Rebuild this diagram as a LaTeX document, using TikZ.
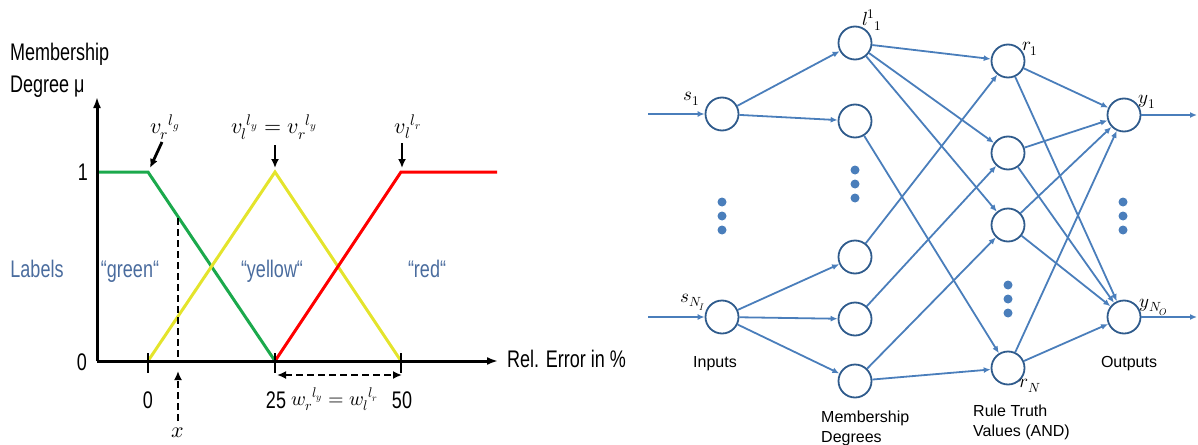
\documentclass[tikz,border=0pt]{standalone}
\usepackage{fontspec}
\usepackage{unicode-math}
\setmainfont{Liberation Sans}
\newfontfamily\narf{Liberation Sans}[FakeStretch=0.75]
\usetikzlibrary{arrows.meta}
\definecolor{netblue}{HTML}{4A7EBB}
\definecolor{nodeblue}{HTML}{2F5B8C}
\definecolor{lblblue}{HTML}{4A6C9E}
\definecolor{mgreen}{HTML}{1BA94C}
\definecolor{myellow}{HTML}{E4E42C}
\definecolor{mred}{HTML}{FF0000}
\tikzset{
  axisline/.style={line width=3pt, -{Latex[length=11pt,width=8pt]}},
  mfline/.style={line width=3pt, line join=miter},
  tickline/.style={line width=2.5pt},
  ctxt/.style={font=\narf\fontsize{24}{26}\selectfont, inner sep=0pt},
  clbl/.style={ctxt, text=lblblue},
  cmath/.style={font=\fontsize{22}{24}\selectfont, inner sep=0pt},
  annarrow/.style={line width=2.8pt, -{Latex[length=9pt,width=8pt]}},
  dasharrow/.style={line width=2.8pt, dash pattern=on 7pt off 4pt},
  neuron/.style={circle, draw=nodeblue, line width=1.8pt, fill=white, minimum size=33pt, inner sep=0pt},
  conn/.style={draw=netblue, line width=1.8pt, -{Latex[length=7pt,width=6pt]}},
  bluedot/.style={circle, fill=netblue, minimum size=9pt, inner sep=0pt},
  nettxt/.style={font=\fontsize{16}{20}\selectfont, inner sep=0pt, align=left},
  netmath/.style={font=\fontsize{19}{21}\selectfont, inner sep=0pt},
}
\begin{document}
\begin{tikzpicture}[x=1pt,y=-1pt]
\useasboundingbox (0,0) rectangle (1198,444);

% ---------------- left chart ----------------
\coordinate (O) at (97,361);
\coordinate (Ytop) at (97,97);
\coordinate (Xend) at (498,361);
\coordinate (G1) at (97,172);
\coordinate (G2) at (148,172);
\coordinate (Z0) at (148,361);
\coordinate (Z25) at (275,361);
\coordinate (Z50) at (401,361);
\coordinate (Ypk) at (275,172);
\coordinate (Rpk) at (401,172);
\coordinate (Rend) at (497,172);

\draw[mfline, mgreen] (G1) -- (G2) -- (Z25);
\draw[mfline, myellow] (Z0) -- (Ypk) -- (Z50);
\draw[mfline, mred] (Z25) -- (Rpk) -- (Rend);

\draw[axisline] (O) -- (Ytop);
\draw[axisline] (O) -- (Xend);

\draw[tickline] (148,353) -- (148,373);
\draw[tickline] (275,353) -- (275,373);
\draw[tickline] (401,353) -- (401,373);

\node[ctxt, anchor=base west] (mem) at (10,60) {Membership};
\node[ctxt, anchor=base west] (deg) at (10,92) {Degree μ};
\node[ctxt, anchor=base] (one) at (83,180) {1};
\node[ctxt, anchor=base] (zero) at (82,370) {0};
\node[ctxt, anchor=base] (x0) at (148,408) {0};
\node[ctxt, anchor=base] (x25) at (276,408) {25};
\node[ctxt, anchor=base] (x50) at (402,408) {50};
\node[ctxt, anchor=base west] (rel) at (507,367) {Rel. Error in \%};

\node[clbl, anchor=base] (lab) at (37,277) {Labels};
\node[clbl, anchor=base] (lgreen) at (130,277) {“green“};
\node[clbl, anchor=base] (lyellow) at (272,277) {“yellow“};
\node[clbl, anchor=base] (lred) at (427,277) {“red“};

\node[cmath] (vg) at (165,127) {$v_r{}^{l_g}$};
\node[cmath] (vy) at (274,127) {$v_l{}^{l_y}=v_r{}^{l_y}$};
\node[cmath] (vr) at (408,127) {$v_l{}^{l_r}$};
\coordinate (pg) at (150,168);
\coordinate (py) at (275,168);
\coordinate (pr) at (402,168);
\draw[annarrow] (162,142) -- (pg);
\draw[annarrow] (275,145) -- (py);
\draw[annarrow] (402,143) -- (pr);

\node[cmath, font=\fontsize{20}{22}\selectfont, anchor=west] (wlab) at (291,399) {$w_r{}^{l_y}=w_l{}^{l_r}$};
\node[cmath] (xlab) at (178,433) {$x$};

\coordinate (xg) at (178,218);
\coordinate (xa) at (178,361);
\draw[dasharrow] (xg) -- (xa);
\coordinate (xb) at (178,421);
\coordinate (xt) at (178,371);
\draw[dasharrow, -{Latex[length=9pt,width=8pt]}] (xb) -- (xt);
\coordinate (w1) at (277,375);
\coordinate (w2) at (402,375);
\draw[dasharrow, {Latex[length=9pt,width=8pt]}-{Latex[length=9pt,width=8pt]}] (w1) -- (w2);

% ---------------- right network ----------------
\node[neuron] (in1) at (722,114) {};
\node[neuron] (in2) at (722,317) {};
\node[neuron] (m1) at (855,43) {};
\node[neuron] (m2) at (855,121) {};
\node[neuron] (m3) at (855,257) {};
\node[neuron] (m4) at (855,319) {};
\node[neuron] (m5) at (855,381) {};
\node[neuron] (r1) at (1008,61) {};
\node[neuron] (r2) at (1008,153) {};
\node[neuron] (r3) at (1008,225) {};
\node[neuron] (r4) at (1008,368) {};
\node[neuron] (o1) at (1124,115) {};
\node[neuron] (o2) at (1124,317) {};

\coordinate (ia1) at (648,114);
\coordinate (ia2) at (648,317);
\coordinate (oa1) at (1197,115);
\coordinate (oa2) at (1197,317);

\draw[conn] (ia1) -- (in1);
\draw[conn] (ia2) -- (in2);
\draw[conn] (in1) -- (m1);
\draw[conn] (in1) -- (m2);
\draw[conn] (in2) -- (m3);
\draw[conn] (in2) -- (m4);
\draw[conn] (in2) -- (m5);
\draw[conn] (m1) -- (r1);
\draw[conn] (m1) -- (r2);
\draw[conn] (m1) -- (r3);
\draw[conn] (m2) -- (r4);
\draw[conn] (m3) -- (r1);
\draw[conn] (m4) -- (r2);
\draw[conn] (m5) -- (r3);
\draw[conn] (m5) -- (r4);
\foreach \r in {r1,r2,r3,r4}{
  \draw[conn] (\r) -- (o1);
  \draw[conn] (\r) -- (o2);
}
\draw[conn] (o1) -- (oa1);
\draw[conn] (o2) -- (oa2);

\node[bluedot] (di1) at (722,202) {};
\node[bluedot] (di2) at (722,216) {};
\node[bluedot] (di3) at (722,230) {};
\node[bluedot] (dm1) at (855,170) {};
\node[bluedot] (dm2) at (855,184) {};
\node[bluedot] (dm3) at (855,198) {};
\node[bluedot] (dr1) at (1008,285) {};
\node[bluedot] (dr2) at (1008,299) {};
\node[bluedot] (dr3) at (1008,313) {};
\node[bluedot] (do1) at (1123,202) {};
\node[bluedot] (do2) at (1123,216) {};
\node[bluedot] (do3) at (1123,230) {};

\node[netmath] (ls1) at (692,99) {$s_1$};
\node[netmath] (ls2) at (693,302) {$s_{N_I}$};
\node[netmath] (ll11) at (872,20) {$l^1{}_1$};
\node[netmath] (lr1) at (1030,49) {$r_1$};
\node[netmath] (lrN) at (1030,386) {$r_N$};
\node[netmath] (ly1) at (1147,102) {$y_1$};
\node[netmath] (lyN) at (1154,307) {$y_{N_O}$};

\node[nettxt, anchor=base] (tin) at (715,367) {Inputs};
\node[nettxt, anchor=base] (tout) at (1129,367) {Outputs};
\node[nettxt, anchor=north west] (tmem) at (821,411) {Membership\\Degrees};
\node[nettxt, anchor=north west] (trule) at (973,405) {Rule Truth\\Values (AND)};
\end{tikzpicture}
\end{document}
